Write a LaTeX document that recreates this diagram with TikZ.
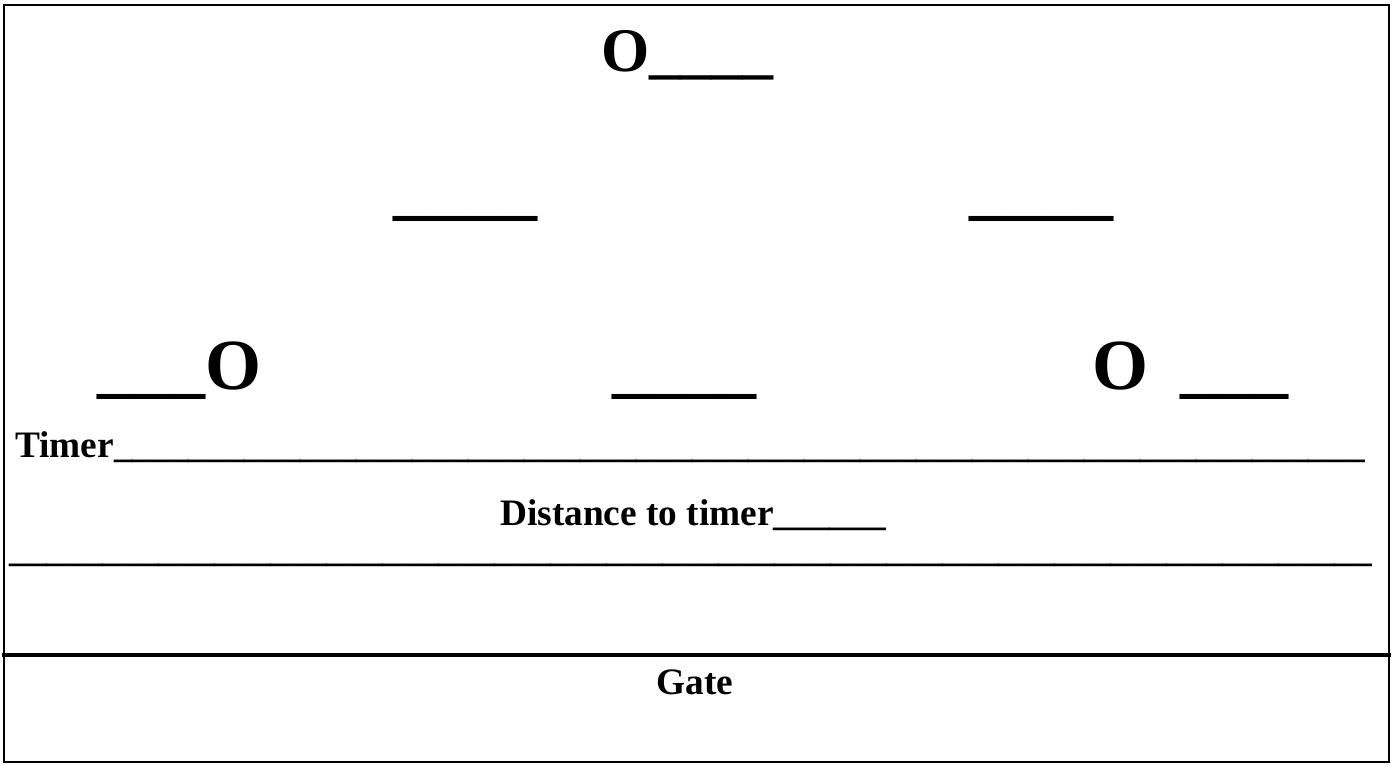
\documentclass[tikz,border=0pt]{standalone}
\usepackage{fontspec}
\setmainfont{Liberation Serif}
\usetikzlibrary{positioning}
\newcommand{\blanks}[1]{\foreach \i in {1,...,#1}{\_}}

\begin{document}
\begin{tikzpicture}[x=0.75pt,y=-0.75pt,cap=rect]
  \tikzstyle{field}=[inner sep=0pt,font=\bfseries\fontsize{28}{34}\selectfont]
  \tikzstyle{conespot}=[inner sep=0pt,font=\bfseries\fontsize{54}{60}\selectfont]
  \tikzstyle{topspot}=[inner sep=0pt,font=\bfseries\fontsize{46.5}{52}\selectfont]
  \useasboundingbox (0,0) rectangle (1393,765);
  \draw[line width=1.5pt] (4,5) rectangle (1389,762);
  \draw[line width=3.5pt] (4,655) -- (1389,655);
  \begin{scope}
    \node[topspot,anchor=base west] (top) at (601,71) {O\blanks{4}};
    \foreach \x/\xtext/\xname in {393/\blanks{4}/midL, 969/\blanks{4}/midR}
      \node[conespot,anchor=base west] (\xname) at (\x,211) {\xtext};
    \foreach \x/\xtext/\xname in {97/\blanks{3}O/lowL, 612/\blanks{4}/lowM, 1092/O\hspace{24pt}\blanks{3}/lowR}
      \node[conespot,anchor=base west] (\xname) at (\x,389) {\xtext};
  \end{scope}
  \node[field,anchor=base west] (timer) at (15,457) {Timer\blanks{67}};
  \node[field,anchor=base] (dist) at (693,525) {Distance to timer\blanks{6}};
  \node[field,anchor=base] (line) at (691,561) {\blanks{73}};
  \node[field,anchor=base] (gate) at (695,694) {Gate};
\end{tikzpicture}
\end{document}
